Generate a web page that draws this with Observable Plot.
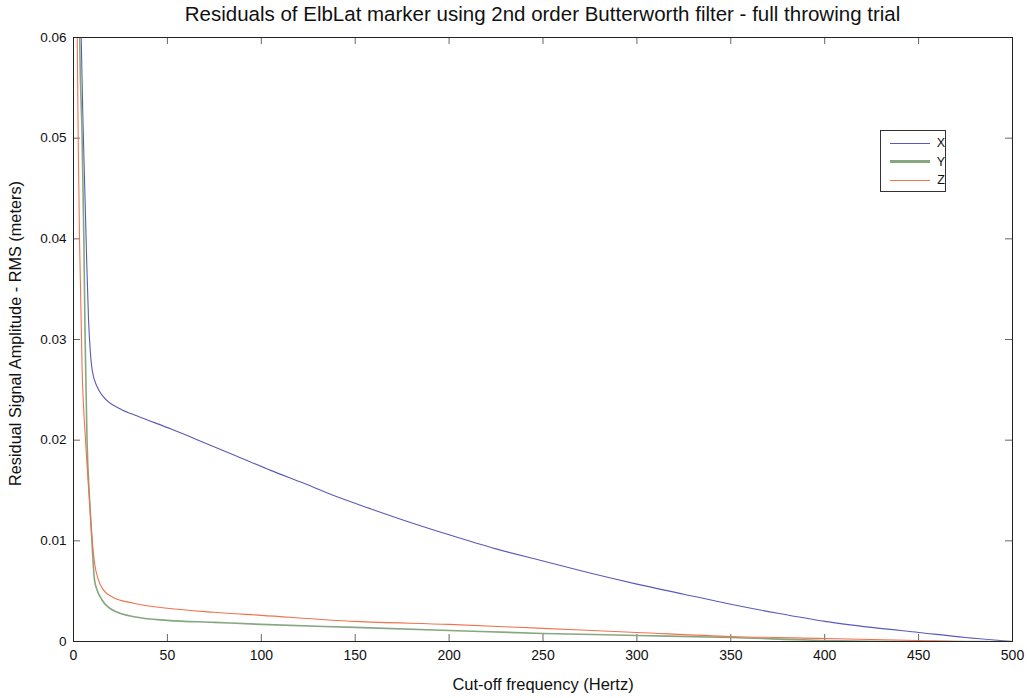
<!DOCTYPE html>
<html><head><meta charset="utf-8">
<script src="https://cdn.jsdelivr.net/npm/d3@7"></script>
<script src="https://cdn.jsdelivr.net/npm/@observablehq/plot@0.6"></script>
<style>
body{margin:0;background:#fff;font-family:"Liberation Sans",Arial,Helvetica,sans-serif;}
#wrap{position:relative;width:1027px;height:698px;}
#title{box-sizing:border-box;width:1027px;height:30px;padding-left:58px;text-align:center;font-size:20.5px;line-height:28px;color:#111;white-space:nowrap;}
#legend{position:absolute;left:880px;top:130px;width:66px;height:62px;border:1px solid #333;background:#fff;box-sizing:border-box;padding-top:3px;}
.row{height:18.5px;display:flex;align-items:center;font-size:12.5px;color:#111;}
.sw{display:inline-block;width:42px;margin-left:9px;margin-right:7px;}
</style></head><body>
<div id="wrap">
<div id="title">Residuals of ElbLat marker using 2nd order Butterworth filter - full throwing trial</div>
<div id="chart"></div>
<div id="legend"></div>
</div>
<script>
const seriesNames = ["X", "Y", "Z"];
const seriesColors = ["#5a5ab8", "#86a880", "#f2724e"];
const seriesWidths = [1.1, 1.6, 1.1];

const xFreq = [3.6, 4, 5, 6, 7, 8, 9, 10, 12.6, 16, 25, 34, 52, 69, 87, 105, 123, 140, 158, 175, 200, 225, 250, 275, 300, 325, 350, 375, 400, 425, 450, 475, 500];
const xVals = [0.066, 0.061, 0.052, 0.045, 0.038, 0.032, 0.0287, 0.0269, 0.0253, 0.0243, 0.0231, 0.0224, 0.0211, 0.0198, 0.0184, 0.0170, 0.0157, 0.0144, 0.0132, 0.0121, 0.0106, 0.0092, 0.0080, 0.0068, 0.0057, 0.0047, 0.0037, 0.0028, 0.0020, 0.0014, 0.0009, 0.0004, 0.0];

const yFreq = [3.0, 3.3, 4.6, 5.5, 6.2, 7.2, 8.5, 9.8, 10.5, 11.2, 12.6, 15.3, 21, 34, 50, 75, 100, 150, 200, 250, 300, 350, 400, 450, 500];
const yVals = [0.066, 0.060, 0.050, 0.040, 0.030, 0.020, 0.0143, 0.0100, 0.0077, 0.0061, 0.0051, 0.0041, 0.0031, 0.0024, 0.0021, 0.0019, 0.0017, 0.0014, 0.0011, 0.0008, 0.0006, 0.0004, 0.0001, 0.0, 0.0];

const zFreq = [1.8, 2, 2.5, 3.2, 4.6, 6.4, 8.5, 10, 11.3, 13.3, 16, 21, 32, 50, 75, 100, 150, 200, 250, 300, 350, 400, 450, 475, 500];
const zVals = [0.066, 0.060, 0.050, 0.040, 0.027, 0.020, 0.0140, 0.0100, 0.0077, 0.0061, 0.0051, 0.0044, 0.0038, 0.0033, 0.0029, 0.0026, 0.0020, 0.0017, 0.0013, 0.0009, 0.0005, 0.0003, 0.0001, 0.0, 0.0];

const xTicks = [0, 50, 100, 150, 200, 250, 300, 350, 400, 450, 500];
const yTicks = [0, 0.01, 0.02, 0.03, 0.04, 0.05, 0.06];
const xLabel = "Cut-off frequency (Hertz)";
const yLabel = "Residual Signal Amplitude - RMS (meters)";

const freqs = [xFreq, yFreq, zFreq];
const vals = [xVals, yVals, zVals];
const data = seriesNames.flatMap((s, i) => freqs[i].map((f, j) => ({series: s, f, v: vals[i][j]})));

const W = 1027, H = 668, mt = 7, mb = 57, ml = 73, mr = 15;
const ph = H - mt - mb, pw = W - ml - mr, tl = 7;
const tickStroke = "#666";
const font = "'Liberation Sans', Arial, Helvetica, sans-serif";

const chart = Plot.plot({
  width: W, height: H,
  marginTop: mt, marginBottom: mb, marginLeft: ml, marginRight: mr,
  style: {fontFamily: font, fontSize: "13.5px", color: "#111", background: "#fff"},
  x: {domain: [0, 500]},
  y: {domain: [0, 0.06]},
  color: {domain: seriesNames, range: seriesColors},
  marks: [
    Plot.ruleX(xTicks.slice(1, -1), {x: d => d, insetTop: ph - tl, stroke: tickStroke}),
    Plot.ruleX(xTicks.slice(1, -1), {x: d => d, insetBottom: ph - tl, stroke: tickStroke}),
    Plot.ruleY(yTicks.slice(1, -1), {y: d => d, insetRight: pw - tl, stroke: tickStroke}),
    Plot.ruleY(yTicks.slice(1, -1), {y: d => d, insetLeft: pw - tl, stroke: tickStroke}),
    ...seriesNames.map((s, i) => Plot.line(data.filter(d => d.series === s), {
      x: "f", y: "v", stroke: seriesColors[i], strokeWidth: seriesWidths[i], curve: "monotone-x", clip: true
    })),
    Plot.frame({stroke: "#222", strokeWidth: 1}),
    Plot.axisX({ticks: xTicks, tickSize: 0, tickPadding: 9, label: null, fill: "#111", fontSize: 14}),
    Plot.axisY({ticks: yTicks, tickSize: 0, tickPadding: 7, label: null, fill: "#111", fontSize: 13.5, tickFormat: d => d === 0 ? "0" : d.toFixed(2)}),
    Plot.text([xLabel], {text: d => d, frameAnchor: "bottom", dy: 48, fontSize: 16.5, fill: "#111"}),
    Plot.text([yLabel], {text: d => d, frameAnchor: "left", textAnchor: "middle", dx: -58, dy: -6, rotate: -90, fontSize: 16.3, fill: "#111"})
  ]
});
document.getElementById("chart").appendChild(chart);

const leg = document.getElementById("legend");
seriesNames.forEach((s, i) => {
  const row = document.createElement("div");
  row.className = "row";
  const sw = document.createElement("span");
  sw.className = "sw";
  sw.style.height = (i === 1 ? 3 : 1.5) + "px";
  sw.style.background = seriesColors[i];
  const lab = document.createElement("span");
  lab.textContent = s;
  row.appendChild(sw); row.appendChild(lab);
  leg.appendChild(row);
});
</script>
</body></html>
